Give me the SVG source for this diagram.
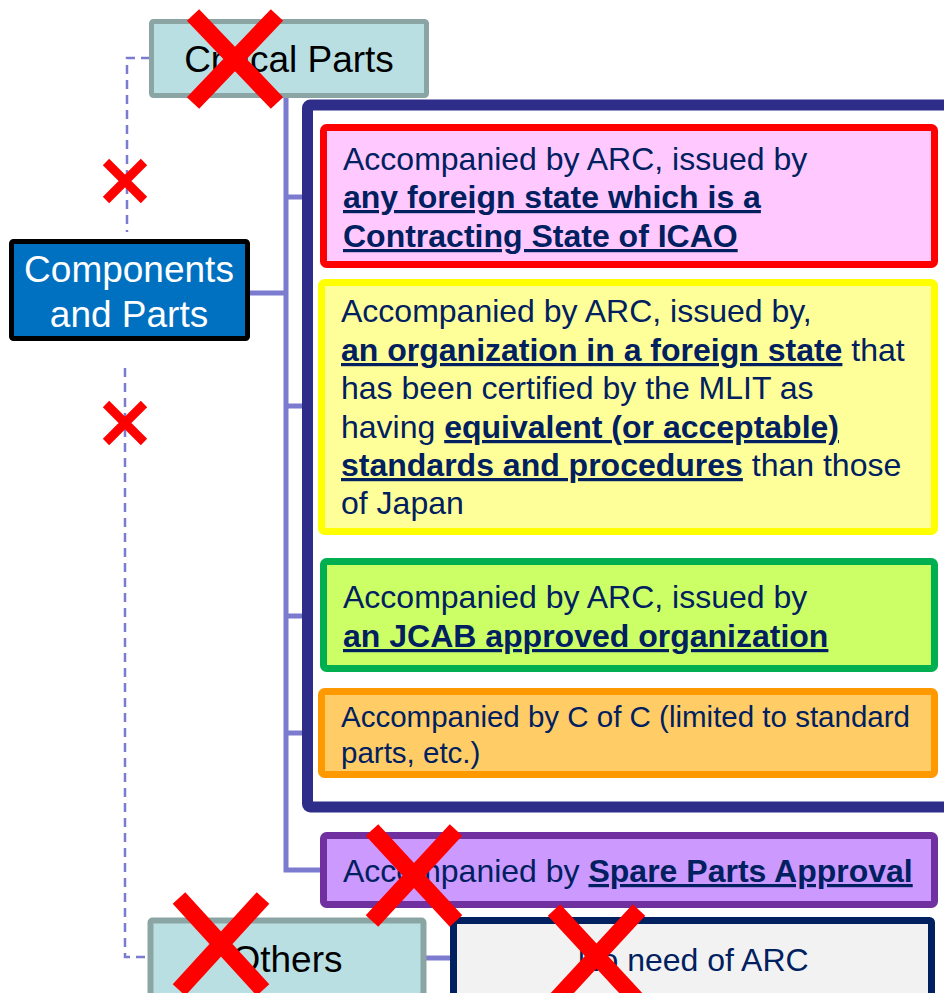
<svg xmlns="http://www.w3.org/2000/svg" width="944" height="993" viewBox="0 0 944 993">
<style>
text{font-family:"Liberation Sans",Arial,sans-serif}
.t{font-size:32px;fill:#002060}
.b{font-weight:bold;text-decoration:underline}
.big{font-size:37px;fill:#000}
.conn{stroke:#7B7BD0;stroke-width:5;fill:none}
.dash{stroke:#7B7BD0;stroke-width:2.5;fill:none;stroke-dasharray:9 6}
.x{stroke:#FF0000;fill:none}
</style>
<rect width="944" height="993" fill="#fff"/>
<g id="connectors">
<path class="dash" d="M150,58 H127 V232"/>
<path class="dash" d="M125,368 V957 H148"/>
<path class="conn" d="M286,97 V870 H322"/>
<path class="conn" d="M243,293 H286"/>
<path class="conn" d="M286,197 H322"/>
<path class="conn" d="M286,406 H320"/>
<path class="conn" d="M286,616 H322"/>
<path class="conn" d="M286,733 H320"/>
<path class="conn" d="M424,958 H452"/>
</g>
<g id="frame">
<rect x="307.5" y="105" width="700" height="702" rx="3" fill="#fff" stroke="#2E2E8A" stroke-width="11"/>
</g>
<g id="critical">
<rect x="151.5" y="21.5" width="275" height="74" rx="2" fill="#B9DFE2" stroke="#8BA5A5" stroke-width="5"/>
<text class="big" x="289" y="72" text-anchor="middle">Critical Parts</text>
</g>
<g id="components">
<rect x="11.5" y="241.5" width="236" height="97" rx="2" fill="#0070C0" stroke="#000" stroke-width="5"/>
<text class="big" x="129" y="282" text-anchor="middle" style="fill:#fff">Components</text>
<text class="big" x="129" y="327" text-anchor="middle" style="fill:#fff">and Parts</text>
</g>
<g id="red">
<rect x="323.5" y="127.5" width="611" height="137" rx="3" fill="#FFC9FF" stroke="#FF0000" stroke-width="7"/>
<text class="t" x="343" y="170">Accompanied by ARC, issued by</text>
<text class="t" x="343" y="208"><tspan class="b">any foreign state which is a</tspan></text>
<text class="t" x="343" y="247"><tspan class="b">Contracting State of ICAO</tspan></text>
</g>
<g id="yellow">
<rect x="321.5" y="282.5" width="613" height="249" rx="3" fill="#FFFF99" stroke="#FFFF00" stroke-width="7"/>
<text class="t" x="341" y="322">Accompanied by ARC, issued by,</text>
<text class="t" x="341" y="361"><tspan class="b">an organization in a foreign state</tspan> that</text>
<text class="t" x="341" y="399">has been certified by the MLIT as</text>
<text class="t" x="341" y="438">having <tspan class="b">equivalent (or acceptable)</tspan></text>
<text class="t" x="341" y="476"><tspan class="b">standards and procedures</tspan> than those</text>
<text class="t" x="341" y="514">of Japan</text>
</g>
<g id="green">
<rect x="323.5" y="561.5" width="611" height="107" rx="3" fill="#CCFF66" stroke="#00B050" stroke-width="7"/>
<text class="t" x="343" y="608">Accompanied by ARC, issued by</text>
<text class="t" x="343" y="647"><tspan class="b">an JCAB approved organization</tspan></text>
</g>
<g id="orange">
<rect x="321.5" y="691.5" width="613" height="83" rx="3" fill="#FFCC66" stroke="#FF9900" stroke-width="7"/>
<text class="t" x="341" y="727" style="font-size:29.5px">Accompanied by C of C (limited to standard</text>
<text class="t" x="341" y="763" style="font-size:29.5px">parts, etc.)</text>
</g>
<g id="purple">
<rect x="323.5" y="835.5" width="611" height="69" rx="3" fill="#CC99FF" stroke="#7030A0" stroke-width="7"/>
<text class="t" x="343" y="882">Accompanied by <tspan class="b">Spare Parts Approval</tspan></text>
</g>
<g id="others">
<rect x="150.5" y="920.5" width="273" height="90" rx="2" fill="#B9DFE2" stroke="#8BA5A5" stroke-width="6"/>
<text class="big" x="287" y="972" text-anchor="middle">Others</text>
</g>
<g id="noneed">
<rect x="453.5" y="920.5" width="478" height="90" rx="2" fill="#F2F2F2" stroke="#002060" stroke-width="7"/>
<text class="t" x="693" y="971" text-anchor="middle">No need of ARC</text>
</g>
<g id="crosses">
<path class="x" stroke-width="17" d="M193,15 L277,103 M277,15 L193,103"/>
<path class="x" stroke-width="9" d="M106,162 L144,200 M144,162 L106,200"/>
<path class="x" stroke-width="9" d="M106,404 L144,442 M144,404 L106,442"/>
<path class="x" stroke-width="17" d="M372,830 L456,921 M456,830 L372,921"/>
<path class="x" stroke-width="17" d="M179,898 L263,990 M263,898 L179,990"/>
<path class="x" stroke-width="17" d="M554,910 L639,1002 M639,910 L554,1002"/>
</g>
</svg>
